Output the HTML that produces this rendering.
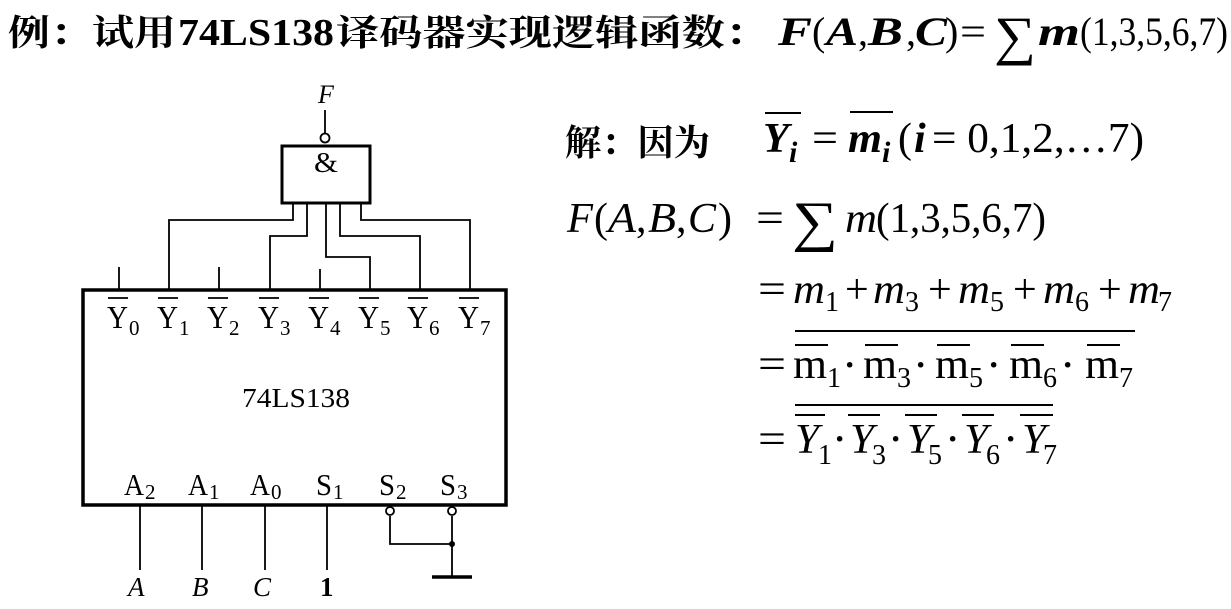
<!DOCTYPE html>
<html><head><meta charset="utf-8"><style>
html,body{margin:0;padding:0;background:#fff;}
svg{display:block;}
.s{font-family:"Liberation Serif","Times New Roman",serif;fill:#000;}
.c{font-family:"Noto Serif CJK SC","Liberation Serif",serif;fill:#000;}
</style></head><body>
<svg width="1231" height="609" viewBox="0 0 1231 609" xmlns="http://www.w3.org/2000/svg">
<!-- Title -->
<text class="c" x="8" y="45" font-size="36" font-weight="bold" textLength="168" lengthAdjust="spacingAndGlyphs">例：试用</text>
<text class="s" x="178" y="45" font-size="38" font-weight="bold" textLength="156" lengthAdjust="spacingAndGlyphs">74LS138</text>
<text class="c" x="336" y="45" font-size="36" font-weight="bold" textLength="432" lengthAdjust="spacingAndGlyphs">译码器实现逻辑函数：</text>
<g class="s" font-size="40" font-weight="bold">
<text x="778" y="45" font-style="italic" textLength="34" lengthAdjust="spacingAndGlyphs">F</text>
<text x="812" y="45" font-weight="normal">(</text>
<text x="826" y="45" font-style="italic" textLength="32" lengthAdjust="spacingAndGlyphs">A</text>
<text x="858" y="45" font-weight="normal">,</text>
<text x="868" y="45" font-style="italic" textLength="35" lengthAdjust="spacingAndGlyphs">B</text>
<text x="906" y="45" font-weight="normal">,</text>
<text x="915" y="45" font-style="italic" textLength="32" lengthAdjust="spacingAndGlyphs">C</text>
<text x="945" y="45" font-weight="normal">)</text>
<text x="960" y="45" font-weight="normal" textLength="26" lengthAdjust="spacingAndGlyphs">=</text>
<text x="994" y="54" font-weight="normal" font-size="54" textLength="42" lengthAdjust="spacingAndGlyphs">∑</text>
<text x="1038" y="45" font-style="italic" textLength="42" lengthAdjust="spacingAndGlyphs">m</text>
<text x="1080" y="45" font-weight="normal" textLength="148" lengthAdjust="spacingAndGlyphs">(1,3,5,6,7)</text>
</g>

<!-- Right math -->
<text class="c" x="565" y="155" font-size="36" font-weight="bold" textLength="145" lengthAdjust="spacingAndGlyphs">解：因为</text>
<g class="s" font-size="42">
<text x="763" y="152" font-style="italic" font-weight="bold" textLength="26" lengthAdjust="spacingAndGlyphs">Y</text>
<text x="789" y="162" font-style="italic" font-weight="bold" font-size="30">i</text>
<line x1="765" y1="113" x2="801" y2="113" stroke="#000" stroke-width="2"/>
<text x="812" y="152" textLength="26" lengthAdjust="spacingAndGlyphs">=</text>
<text x="848" y="152" font-style="italic" font-weight="bold" textLength="34" lengthAdjust="spacingAndGlyphs">m</text>
<text x="882" y="162" font-style="italic" font-weight="bold" font-size="30">i</text>
<line x1="850" y1="112" x2="893" y2="112" stroke="#000" stroke-width="2"/>
<text x="898" y="152">(</text>
<text x="914" y="152" font-style="italic" font-weight="bold">i</text>
<text x="932" y="152" textLength="212" lengthAdjust="spacingAndGlyphs">= 0,1,2,…7)</text>

<text x="567" y="232" font-style="italic" textLength="26" lengthAdjust="spacingAndGlyphs">F</text>
<text x="594" y="232">(</text>
<text x="608" y="232" font-style="italic" textLength="28" lengthAdjust="spacingAndGlyphs">A</text>
<text x="636" y="232">,</text>
<text x="648" y="232" font-style="italic" textLength="28" lengthAdjust="spacingAndGlyphs">B</text>
<text x="676" y="232">,</text>
<text x="688" y="232" font-style="italic" textLength="28" lengthAdjust="spacingAndGlyphs">C</text>
<text x="718" y="232">)</text>
<text x="756" y="232" textLength="28" lengthAdjust="spacingAndGlyphs">=</text>
<text x="792" y="240" font-size="56" textLength="46" lengthAdjust="spacingAndGlyphs">∑</text>
<text x="845" y="232" font-style="italic" textLength="32" lengthAdjust="spacingAndGlyphs">m</text>
<text x="876" y="232" textLength="170" lengthAdjust="spacingAndGlyphs">(1,3,5,6,7)</text>

<!-- line 4 -->
<text x="758" y="303" textLength="28" lengthAdjust="spacingAndGlyphs">=</text>
<g font-style="italic"><text x="793" y="303" textLength="32" lengthAdjust="spacingAndGlyphs">m</text><text x="873" y="303" textLength="32" lengthAdjust="spacingAndGlyphs">m</text><text x="958" y="303" textLength="32" lengthAdjust="spacingAndGlyphs">m</text><text x="1043" y="303" textLength="32" lengthAdjust="spacingAndGlyphs">m</text><text x="1128" y="303" textLength="32" lengthAdjust="spacingAndGlyphs">m</text></g>
<g font-size="28"><text x="825" y="311">1</text><text x="905" y="311">3</text><text x="990" y="311">5</text><text x="1075" y="311">6</text><text x="1158" y="311">7</text></g>
<text x="845" y="303">+</text><text x="928" y="303">+</text><text x="1013" y="303">+</text><text x="1098" y="303">+</text>

<!-- line 5 -->
<text x="758" y="378" textLength="28" lengthAdjust="spacingAndGlyphs">=</text>
<g><text x="793" y="378" textLength="34" lengthAdjust="spacingAndGlyphs">m</text><text x="863" y="378" textLength="34" lengthAdjust="spacingAndGlyphs">m</text><text x="935" y="378" textLength="34" lengthAdjust="spacingAndGlyphs">m</text><text x="1009" y="378" textLength="34" lengthAdjust="spacingAndGlyphs">m</text><text x="1085" y="378" textLength="34" lengthAdjust="spacingAndGlyphs">m</text></g>
<g font-size="28"><text x="827" y="387">1</text><text x="897" y="387">3</text><text x="969" y="387">5</text><text x="1043" y="387">6</text><text x="1119" y="387">7</text></g>
<g font-size="34" font-weight="bold"><text x="844" y="376">·</text><text x="915" y="376">·</text><text x="988" y="376">·</text><text x="1062" y="376">·</text></g>
<g stroke="#000" stroke-width="2">
<line x1="795" y1="331" x2="1135" y2="331"/>
<line x1="795" y1="345" x2="828" y2="345"/><line x1="865" y1="345" x2="898" y2="345"/><line x1="937" y1="345" x2="970" y2="345"/><line x1="1011" y1="345" x2="1044" y2="345"/><line x1="1087" y1="345" x2="1120" y2="345"/>
</g>

<!-- line 6 -->
<text x="758" y="453" textLength="28" lengthAdjust="spacingAndGlyphs">=</text>
<g font-style="italic"><text x="795" y="453" textLength="24" lengthAdjust="spacingAndGlyphs">Y</text><text x="850" y="453" textLength="24" lengthAdjust="spacingAndGlyphs">Y</text><text x="907" y="453" textLength="24" lengthAdjust="spacingAndGlyphs">Y</text><text x="964" y="453" textLength="24" lengthAdjust="spacingAndGlyphs">Y</text><text x="1022" y="453" textLength="24" lengthAdjust="spacingAndGlyphs">Y</text></g>
<g font-size="28"><text x="818" y="464">1</text><text x="872" y="464">3</text><text x="928" y="464">5</text><text x="986" y="464">6</text><text x="1043" y="464">7</text></g>
<g font-size="34" font-weight="bold"><text x="834" y="450">·</text><text x="890" y="450">·</text><text x="947" y="450">·</text><text x="1005" y="450">·</text></g>
<g stroke="#000" stroke-width="2">
<line x1="795" y1="405" x2="1053" y2="405"/>
<line x1="795" y1="415" x2="825" y2="415"/><line x1="848" y1="415" x2="880" y2="415"/><line x1="905" y1="415" x2="937" y2="415"/><line x1="962" y1="415" x2="994" y2="415"/><line x1="1020" y1="415" x2="1053" y2="415"/>
</g>
</g>

<!-- Circuit -->
<g stroke="#000" fill="none">
<rect x="282" y="146" width="88" height="57" stroke-width="3"/>
<line x1="325" y1="110" x2="325" y2="133" stroke-width="1.8"/>
<circle cx="325" cy="138" r="4.5" stroke-width="1.8" fill="#fff"/>
<rect x="83" y="290" width="423" height="215" stroke-width="3.5"/>
<g stroke-width="1.8">
<line x1="119" y1="267" x2="119" y2="290"/>
<line x1="219" y1="267" x2="219" y2="290"/>
<line x1="320" y1="269" x2="320" y2="290"/>
<polyline points="293,203 293,220 169,220 169,290"/>
<polyline points="307,203 307,236 270,236 270,290"/>
<polyline points="326,203 326,257 370,257 370,290"/>
<polyline points="340,203 340,236 420,236 420,290"/>
<polyline points="361,203 361,220 470,220 470,290"/>
<line x1="140" y1="505" x2="140" y2="570"/>
<line x1="202" y1="505" x2="202" y2="570"/>
<line x1="265" y1="505" x2="265" y2="570"/>
<line x1="327" y1="505" x2="327" y2="570"/>
<polyline points="390,516 390,544 452,544"/>
<line x1="452" y1="516" x2="452" y2="577"/>
<circle cx="390" cy="511" r="4" fill="#fff"/>
<circle cx="452" cy="511" r="4" fill="#fff"/>
</g>
<line x1="432" y1="577" x2="472" y2="577" stroke-width="3.5"/>
</g>
<circle cx="452" cy="544" r="3" fill="#000"/>

<g class="s">
<text x="318" y="103" font-size="26" font-style="italic">F</text>
<text x="314" y="172" font-size="28" textLength="24" lengthAdjust="spacingAndGlyphs">&amp;</text>
<g font-size="32">
<text x="107" y="328" textLength="21" lengthAdjust="spacingAndGlyphs">Y</text><text x="157" y="328" textLength="21" lengthAdjust="spacingAndGlyphs">Y</text><text x="207" y="328" textLength="21" lengthAdjust="spacingAndGlyphs">Y</text><text x="258" y="328" textLength="21" lengthAdjust="spacingAndGlyphs">Y</text><text x="308" y="328" textLength="21" lengthAdjust="spacingAndGlyphs">Y</text><text x="358" y="328" textLength="21" lengthAdjust="spacingAndGlyphs">Y</text><text x="407" y="328" textLength="21" lengthAdjust="spacingAndGlyphs">Y</text><text x="458" y="328" textLength="21" lengthAdjust="spacingAndGlyphs">Y</text>
</g>
<g font-size="21">
<text x="129" y="335">0</text><text x="179" y="335">1</text><text x="229" y="335">2</text><text x="280" y="335">3</text><text x="330" y="335">4</text><text x="380" y="335">5</text><text x="429" y="335">6</text><text x="480" y="335">7</text>
</g>
<g stroke="#000" stroke-width="1.8">
<line x1="108" y1="298" x2="128" y2="298"/><line x1="158" y1="298" x2="178" y2="298"/><line x1="208" y1="298" x2="228" y2="298"/><line x1="259" y1="298" x2="279" y2="298"/><line x1="309" y1="298" x2="329" y2="298"/><line x1="359" y1="298" x2="379" y2="298"/><line x1="408" y1="298" x2="428" y2="298"/><line x1="459" y1="298" x2="479" y2="298"/>
</g>
<text x="242" y="407" font-size="27" textLength="108" lengthAdjust="spacingAndGlyphs">74LS138</text>
<g font-size="31">
<text x="124" y="495" textLength="20" lengthAdjust="spacingAndGlyphs">A</text><text x="188" y="495" textLength="20" lengthAdjust="spacingAndGlyphs">A</text><text x="250" y="495" textLength="20" lengthAdjust="spacingAndGlyphs">A</text><text x="316" y="495" textLength="16" lengthAdjust="spacingAndGlyphs">S</text><text x="379" y="495" textLength="16" lengthAdjust="spacingAndGlyphs">S</text><text x="440" y="495" textLength="16" lengthAdjust="spacingAndGlyphs">S</text>
</g>
<g font-size="21">
<text x="145" y="499">2</text><text x="209" y="499">1</text><text x="271" y="499">0</text><text x="333" y="499">1</text><text x="396" y="499">2</text><text x="457" y="499">3</text>
</g>
<g font-size="27" font-style="italic">
<text x="128" y="596">A</text><text x="192" y="596">B</text><text x="253" y="596">C</text>
</g>
<text x="320" y="596" font-size="27" font-weight="bold">1</text>
</g>
</svg>
</body></html>
